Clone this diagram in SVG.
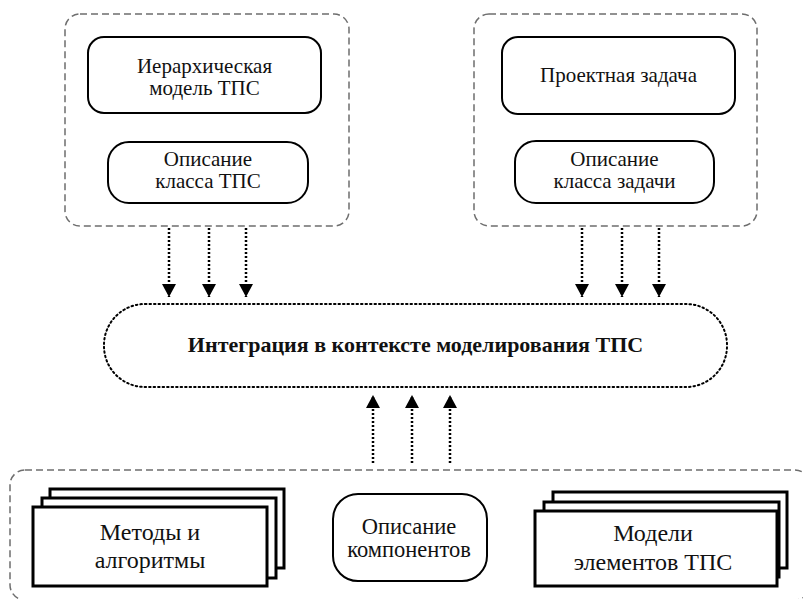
<svg xmlns="http://www.w3.org/2000/svg" width="803" height="599" viewBox="0 0 803 599">
<style>
.grp{fill:none;stroke:#6e6e6e;stroke-width:1.5;stroke-dasharray:7 4}
.box{fill:#fff;stroke:#000;stroke-width:2}
.stk{fill:#fff;stroke:#000;stroke-width:3}
.dot{fill:none;stroke:#000;stroke-width:2;stroke-dasharray:1.5 3;stroke-linecap:round}
.arr{fill:none;stroke:#000;stroke-width:2.5;stroke-dasharray:2 2}
text{font-family:"Liberation Serif","DejaVu Serif",serif;font-size:21px;text-anchor:middle;fill:#111}
.b{font-weight:bold;font-size:22px}
.m{font-size:22.5px}
.l{font-size:24px}
</style>
<defs>
<marker id="ah" viewBox="0 0 13 14" refX="13" refY="7" markerWidth="13" markerHeight="14" markerUnits="userSpaceOnUse" orient="auto">
<path d="M0,0 L13,7 L0,14 Z" fill="#000"/>
</marker>
</defs>
<rect width="803" height="599" fill="#fff"/>

<g id="group-top-left">
<rect class="grp" x="65" y="14" width="284" height="212" rx="15"/>
</g>
<g id="node-hier-model">
<rect class="box" x="88" y="37" width="233" height="76" rx="16"/>
<text x="204.5" y="73">Иерархическая</text>
<text x="204.5" y="95">модель ТПС</text>
</g>
<g id="node-class-tps">
<rect class="box" x="108" y="142" width="200" height="61" rx="21"/>
<text x="208" y="166">Описание</text>
<text x="208" y="188">класса ТПС</text>
</g>

<g id="group-top-right">
<rect class="grp" x="474" y="14" width="283" height="212" rx="15"/>
</g>
<g id="node-project-task">
<rect class="box" x="502" y="37" width="233" height="77" rx="16"/>
<text x="618.5" y="82">Проектная задача</text>
</g>
<g id="node-class-task">
<rect class="box" x="515" y="141" width="199" height="62" rx="21"/>
<text x="614.5" y="166">Описание</text>
<text x="614.5" y="188">класса задачи</text>
</g>

<g id="node-integration">
<rect class="dot" x="104" y="304" width="623" height="83" rx="41"/>
<text class="b" x="415.5" y="352">Интеграция в контексте моделирования ТПС</text>
</g>

<g id="group-bottom">
<rect class="grp" x="10" y="470" width="800" height="130" rx="15"/>
</g>
<g id="node-methods">
<rect class="stk" x="50" y="489" width="234" height="79"/>
<rect class="stk" x="42" y="498" width="234" height="80"/>
<rect class="stk" x="33" y="507" width="234" height="79"/>
<text class="l" x="150" y="540">Методы и</text>
<text class="l" x="150" y="568">алгоритмы</text>
</g>
<g id="node-components">
<rect class="box" x="333" y="494" width="154" height="87" rx="25"/>
<text class="m" x="409" y="534">Описание</text>
<text class="m" x="409" y="557">компонентов</text>
</g>
<g id="node-element-models">
<rect class="stk" x="553" y="492" width="234" height="76"/>
<rect class="stk" x="544" y="502" width="235" height="75"/>
<rect class="stk" x="535" y="511" width="242" height="75"/>
<text class="l" x="653" y="541">Модели</text>
<text class="l" x="653" y="570">элементов ТПС</text>
</g>

<g id="connectors">
<line class="arr" x1="169" y1="228" x2="169" y2="297" marker-end="url(#ah)"/>
<line class="arr" x1="209" y1="228" x2="209" y2="297" marker-end="url(#ah)"/>
<line class="arr" x1="246" y1="228" x2="246" y2="297" marker-end="url(#ah)"/>
<line class="arr" x1="582" y1="228" x2="582" y2="297" marker-end="url(#ah)"/>
<line class="arr" x1="622" y1="228" x2="622" y2="297" marker-end="url(#ah)"/>
<line class="arr" x1="659" y1="228" x2="659" y2="297" marker-end="url(#ah)"/>
<line class="arr" x1="373" y1="463" x2="373" y2="395" marker-end="url(#ah)"/>
<line class="arr" x1="412" y1="463" x2="412" y2="395" marker-end="url(#ah)"/>
<line class="arr" x1="450" y1="463" x2="450" y2="395" marker-end="url(#ah)"/>
</g>
</svg>
